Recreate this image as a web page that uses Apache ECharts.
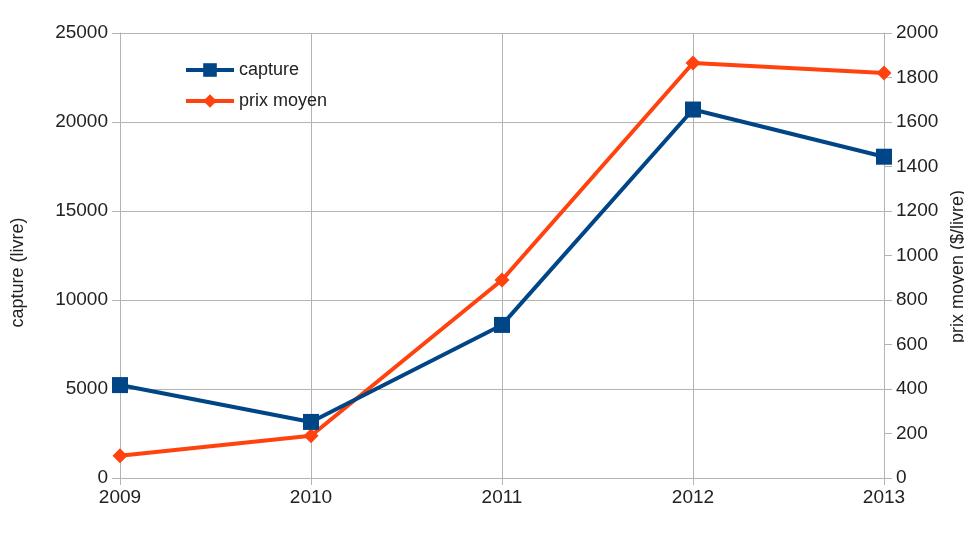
<!DOCTYPE html>
<html>
<head>
    <meta charset="utf-8">
    <script type="text/javascript" src="https://cdn.jsdelivr.net/npm/echarts@6/dist/echarts.min.js"></script>
    <style>
        body { margin: 0; background: #fff; }
    </style>
</head>
<body>
<div id="main" style="width:964px;height:550px;"></div>
<script type="text/javascript">
    // données
    var years = ['2009', '2010', '2011', '2012', '2013'];
    var capture = [5220, 3150, 8600, 20700, 18050];
    var prixMoyen = [100, 190, 890, 1865, 1820];

    var axisGray = '#b3b3b3';
    var font = 'Liberation Sans, Arial, sans-serif';

    function plain(v) { return String(v); }  // pas de séparateur de milliers

    var myChart = echarts.init(document.getElementById('main'));
    var option = {
        backgroundColor: '#fff',
        textStyle: { fontFamily: font },
        grid: { left: 120, right: 80, top: 33, bottom: 72, outerBoundsMode: 'none' },
        legend: {
            orient: 'vertical',
            left: 179,
            top: 56,
            itemWidth: 48,
            itemHeight: 17,
            itemGap: 13,
            lineStyle: { width: 4 },
            textStyle: { fontSize: 18, color: '#222' },
            data: ['capture', 'prix moyen']
        },
        xAxis: {
            type: 'category',
            data: years,
            boundaryGap: false,
            axisLine: { lineStyle: { color: axisGray, width: 1 } },
            axisTick: { show: true, length: 7, lineStyle: { color: axisGray } },
            axisLabel: { color: '#222', fontSize: 19, margin: 10 },
            splitLine: { show: true, lineStyle: { color: axisGray } }
        },
        yAxis: [
            {
                type: 'value',
                min: 0,
                max: 25000,
                interval: 5000,
                name: 'capture (livre)',
                nameLocation: 'middle',
                nameRotate: 90,
                nameGap: 93,
                nameTextStyle: { fontSize: 18, color: '#222', padding: [0, 34, 0, 0] },
                axisLine: { show: true, lineStyle: { color: axisGray } },
                axisTick: { show: true, length: 8, lineStyle: { color: axisGray } },
                axisLabel: { color: '#222', fontSize: 19, margin: 12, formatter: plain },
                splitLine: { show: true, lineStyle: { color: axisGray } }
            },
            {
                type: 'value',
                min: 0,
                max: 2000,
                interval: 200,
                position: 'right',
                name: 'prix moyen ($/livre)',
                nameLocation: 'middle',
                nameRotate: 90,
                nameGap: 60,
                nameTextStyle: { fontSize: 18, color: '#222', padding: [0, 22, 0, 0] },
                axisLine: { show: true, lineStyle: { color: axisGray } },
                axisTick: { show: true, length: 8, lineStyle: { color: axisGray } },
                axisLabel: { color: '#222', fontSize: 19, margin: 12, formatter: plain },
                splitLine: { show: false }
            }
        ],
        series: [
            {
                name: 'capture',
                type: 'line',
                yAxisIndex: 0,
                data: capture,
                symbol: 'rect',
                symbolSize: 16,
                color: '#004586',
                lineStyle: { width: 4, color: '#004586' },
                itemStyle: { color: '#004586' },
                z: 3
            },
            {
                name: 'prix moyen',
                type: 'line',
                yAxisIndex: 1,
                data: prixMoyen,
                symbol: 'diamond',
                symbolSize: 15,
                color: '#ff420e',
                lineStyle: { width: 4, color: '#ff420e' },
                itemStyle: { color: '#ff420e' },
                z: 2
            }
        ]
    };
    myChart.setOption(option);
</script>
</body>
</html>
